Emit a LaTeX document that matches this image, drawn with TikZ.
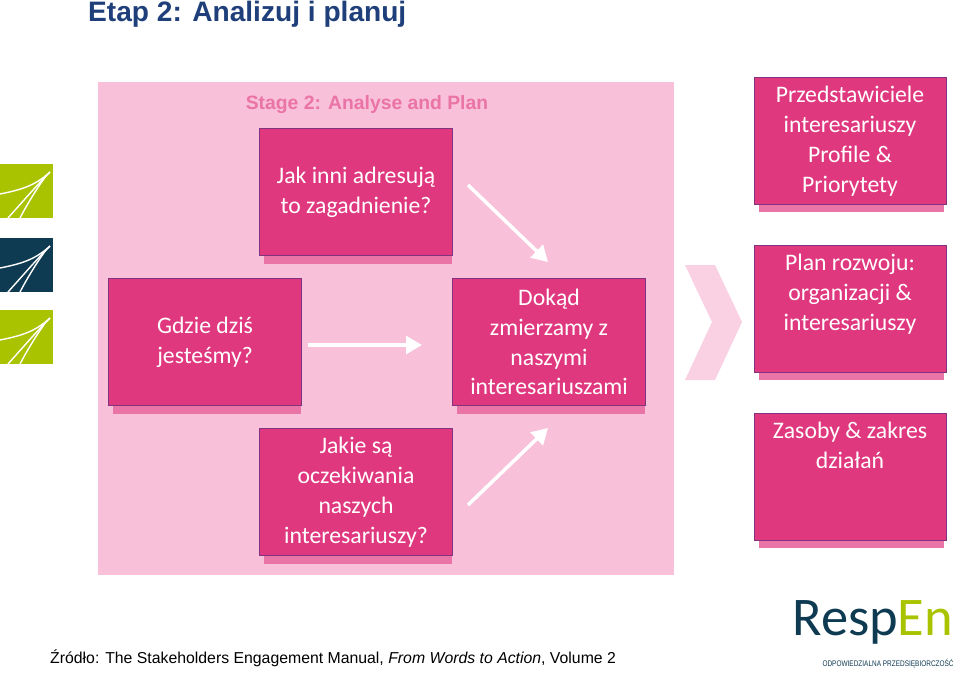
\documentclass[tikz,border=0pt]{standalone}
\usepackage{fontspec}
\setmainfont{Carlito}
\newfontfamily\arial{Liberation Sans}
\begin{document}
\begin{tikzpicture}[x=0.02cm,y=-0.02cm,
 box/.style={draw=violet!60!gray,line width=0.6pt,fill=boxpink,text=white,font=\fontsize{13.5}{17}\selectfont,align=center,inner sep=0pt},
 rbox/.style={draw=violet!60!gray,line width=0.6pt,fill=boxpink},
 rtext/.style={text=white,font=\fontsize{13.5}{17}\selectfont,align=center,anchor=north,inner sep=0pt},
 arr/.style={white,line width=2pt,-{Triangle[length=9pt,width=10pt]}}]
\definecolor{boxpink}{HTML}{E0387E}
\definecolor{bgpink}{HTML}{F9C0DA}
\definecolor{chev}{HTML}{FAD0E3}
\definecolor{lgreen}{HTML}{A9C300}
\definecolor{navy}{HTML}{0E3A52}
\definecolor{titleblue}{HTML}{1F3F7A}
\usetikzlibrary{arrows.meta}
\useasboundingbox (0,0) rectangle (960,676);
\node[anchor=west,font=\arial\bfseries\fontsize{16}{19}\selectfont,text=titleblue] (title) at (82,14) {Etap 2: Analizuj i planuj};
\fill[bgpink] (98,82) rectangle (674,575);
\node[font=\arial\bfseries\fontsize{11}{13}\selectfont,text=boxpink!70] (stage) at (367,105) {Stage 2: Analyse and Plan};
% chevron
\fill[chev] (685,265) -- (715,265) -- (742,322) -- (715,380) -- (685,380) -- (712,322) -- cycle;
% logos
\foreach \y/\c in {164/lgreen,238/navy,310/lgreen}{
 \fill[\c] (0,\y) rectangle (53,\y+54);
 \draw[white,line width=0.8pt] (0,\y+30) .. controls (20,\y+26) and (35,\y+22) .. (50,\y+8);
 \draw[white,line width=0.8pt] (8,\y+54) .. controls (25,\y+35) and (38,\y+20) .. (50,\y+8);
 \draw[white,line width=0.8pt] (20,\y+54) .. controls (30,\y+35) and (40,\y+20) .. (46,\y+12);
}
\foreach \n/\x/\y/\t in {jak/259/128/{Jak inni adresują\\to zagadnienie?},
 gdzie/108/278/{Gdzie dziś\\jesteśmy?},
 dokad/452/278/{Dokąd\\zmierzamy z\\naszymi\\interesariuszami},
 jakie/259/428/{Jakie są\\oczekiwania\\naszych\\interesariuszy?}}{
 \fill[boxpink!70] (\x+5,\y+128) rectangle (\x+193,\y+136);
 \node[box,minimum width=193*0.02cm,minimum height=127*0.02cm,anchor=north west] (\n) at (\x,\y) {\t};
}
\foreach \n/\y/\t in {prz/77/{Przedstawiciele\\interesariuszy\\Profile \&\\Priorytety},
 plan/245/{Plan rozwoju:\\organizacji \&\\interesariuszy},
 zas/413/{Zasoby \& zakres\\działań}}{
 \fill[boxpink!70] (759,\y+127) rectangle (944,\y+135);
 \node[rbox,minimum width=192*0.02cm,minimum height=127*0.02cm,anchor=north west] (\n) at (754,\y) {};
 \node[rtext] (\n t) at (850,\y+9) {\t};
}
\draw[arr] (308,345) -- (422,345);
\draw[arr] (468,185) -- (548,262);
\draw[arr] (468,505) -- (548,428);
\node[anchor=west,font=\arial\fontsize{9}{11}\selectfont] (src) at (44,658) {Źródło: The Stakeholders Engagement Manual, \textit{From Words to Action}, Volume 2};
\node[anchor=west,font=\fontsize{31}{32}\selectfont,text=navy,inner sep=0pt] (resp) at (792,622) {Resp\textcolor{lgreen}{En}};
\node[anchor=east,font=\arial\fontsize{4.6}{6}\selectfont,text=navy,inner sep=0pt] (sub) at (954,664) {\scalebox{0.8}[1]{ODPOWIEDZIALNA PRZEDSIĘBIORCZOŚĆ}};
\end{tikzpicture}
\end{document}
